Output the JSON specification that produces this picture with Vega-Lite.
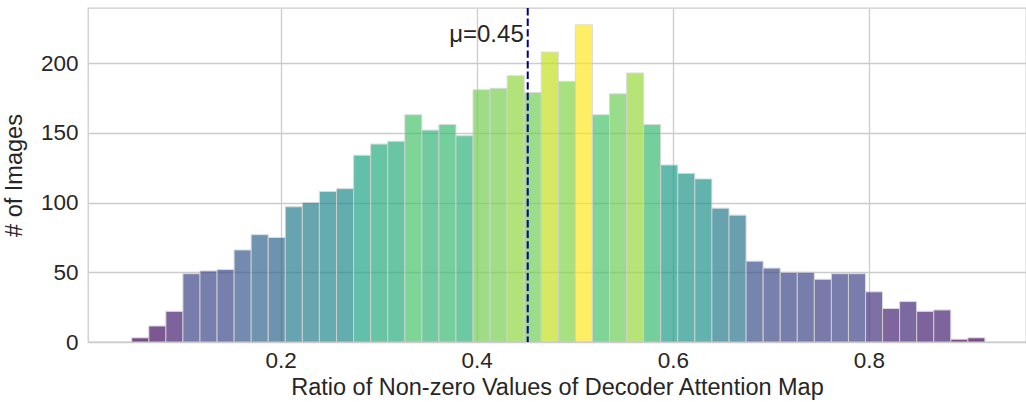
{
  "$schema": "https://vega.github.io/schema/vega-lite/v6.json",
  "width": 938,
  "height": 334,
  "autosize": {"type": "none"},
  "padding": {"left": 88, "top": 8, "right": 0, "bottom": 60},
  "config": {
    "font": "Liberation Sans",
    "view": {"stroke": "#cccccc", "strokeWidth": 1.3},
    "axis": {
      "grid": true,
      "gridColor": "#cccccc",
      "gridWidth": 1.3,
      "domain": false,
      "ticks": false,
      "labelFontSize": 22.5,
      "labelColor": "#262626",
      "titleFontSize": 23.5,
      "titleFontWeight": "normal",
      "titleColor": "#262626"
    }
  },
  "datasets": {
    "bins": [
      {"bin_start": 0.0481, "bin_end": 0.0655, "count": 3},
      {"bin_start": 0.0655, "bin_end": 0.0829, "count": 11.5},
      {"bin_start": 0.0829, "bin_end": 0.1003, "count": 22},
      {"bin_start": 0.1003, "bin_end": 0.1177, "count": 49},
      {"bin_start": 0.1177, "bin_end": 0.1351, "count": 51},
      {"bin_start": 0.1351, "bin_end": 0.1525, "count": 52},
      {"bin_start": 0.1525, "bin_end": 0.1699, "count": 66},
      {"bin_start": 0.1699, "bin_end": 0.1873, "count": 77},
      {"bin_start": 0.1873, "bin_end": 0.2047, "count": 75},
      {"bin_start": 0.2047, "bin_end": 0.2221, "count": 97},
      {"bin_start": 0.2221, "bin_end": 0.2395, "count": 100},
      {"bin_start": 0.2395, "bin_end": 0.2570, "count": 108},
      {"bin_start": 0.2570, "bin_end": 0.2744, "count": 110},
      {"bin_start": 0.2744, "bin_end": 0.2918, "count": 134},
      {"bin_start": 0.2918, "bin_end": 0.3092, "count": 142},
      {"bin_start": 0.3092, "bin_end": 0.3266, "count": 144},
      {"bin_start": 0.3266, "bin_end": 0.3440, "count": 163},
      {"bin_start": 0.3440, "bin_end": 0.3614, "count": 152},
      {"bin_start": 0.3614, "bin_end": 0.3788, "count": 156},
      {"bin_start": 0.3788, "bin_end": 0.3962, "count": 148},
      {"bin_start": 0.3962, "bin_end": 0.4136, "count": 181},
      {"bin_start": 0.4136, "bin_end": 0.4310, "count": 182},
      {"bin_start": 0.4310, "bin_end": 0.4484, "count": 191},
      {"bin_start": 0.4484, "bin_end": 0.4658, "count": 179},
      {"bin_start": 0.4658, "bin_end": 0.4832, "count": 208},
      {"bin_start": 0.4832, "bin_end": 0.5006, "count": 187},
      {"bin_start": 0.5006, "bin_end": 0.5180, "count": 227.5},
      {"bin_start": 0.5180, "bin_end": 0.5354, "count": 163},
      {"bin_start": 0.5354, "bin_end": 0.5528, "count": 178},
      {"bin_start": 0.5528, "bin_end": 0.5702, "count": 193},
      {"bin_start": 0.5702, "bin_end": 0.5876, "count": 156},
      {"bin_start": 0.5876, "bin_end": 0.6050, "count": 127},
      {"bin_start": 0.6050, "bin_end": 0.6224, "count": 121},
      {"bin_start": 0.6224, "bin_end": 0.6398, "count": 117},
      {"bin_start": 0.6398, "bin_end": 0.6573, "count": 96},
      {"bin_start": 0.6573, "bin_end": 0.6747, "count": 91},
      {"bin_start": 0.6747, "bin_end": 0.6921, "count": 58},
      {"bin_start": 0.6921, "bin_end": 0.7095, "count": 53},
      {"bin_start": 0.7095, "bin_end": 0.7269, "count": 50},
      {"bin_start": 0.7269, "bin_end": 0.7443, "count": 50},
      {"bin_start": 0.7443, "bin_end": 0.7617, "count": 45},
      {"bin_start": 0.7617, "bin_end": 0.7791, "count": 49},
      {"bin_start": 0.7791, "bin_end": 0.7965, "count": 49},
      {"bin_start": 0.7965, "bin_end": 0.8139, "count": 36},
      {"bin_start": 0.8139, "bin_end": 0.8313, "count": 24},
      {"bin_start": 0.8313, "bin_end": 0.8487, "count": 29},
      {"bin_start": 0.8487, "bin_end": 0.8661, "count": 22},
      {"bin_start": 0.8661, "bin_end": 0.8835, "count": 23},
      {"bin_start": 0.8835, "bin_end": 0.9009, "count": 2},
      {"bin_start": 0.9009, "bin_end": 0.9183, "count": 3}
    ],
    "mean": [{"mean": 0.452, "label": "μ=0.45"}]
  },
  "layer": [
    {
      "data": {"name": "bins"},
      "mark": {"type": "rect", "opacity": 0.7, "stroke": "#cccccc", "strokeWidth": 1},
      "encoding": {
        "x": {
          "field": "bin_start", "type": "quantitative",
          "scale": {"domain": [0.0035, 0.9602], "nice": false, "zero": false},
          "axis": {"values": [0.2, 0.4, 0.6, 0.8], "format": ".1f", "labelPadding": 7, "titlePadding": 4,
                   "title": "Ratio of Non-zero Values of Decoder Attention Map"}
        },
        "x2": {"field": "bin_end"},
        "y": {
          "field": "count", "type": "quantitative",
          "scale": {"domain": [0, 239.6], "nice": false},
          "axis": {"values": [0, 50, 100, 150, 200], "labelPadding": 10, "titlePadding": 14, "title": "# of Images"}
        },
        "y2": {"datum": 0},
        "color": {
          "field": "count", "type": "quantitative",
          "scale": {"scheme": "viridis", "domain": [2, 227.5]},
          "legend": null
        }
      }
    },
    {
      "data": {"name": "mean"},
      "mark": {"type": "rule", "color": "#000080", "strokeWidth": 2, "strokeDash": [7.4, 3.2]},
      "encoding": {"x": {"field": "mean", "type": "quantitative"}}
    },
    {
      "data": {"name": "mean"},
      "mark": {"type": "text", "align": "right", "baseline": "alphabetic", "dx": -4, "fontSize": 24, "color": "#262626"},
      "encoding": {
        "x": {"field": "mean", "type": "quantitative"},
        "y": {"datum": 215},
        "text": {"field": "label"}
      }
    }
  ]
}
